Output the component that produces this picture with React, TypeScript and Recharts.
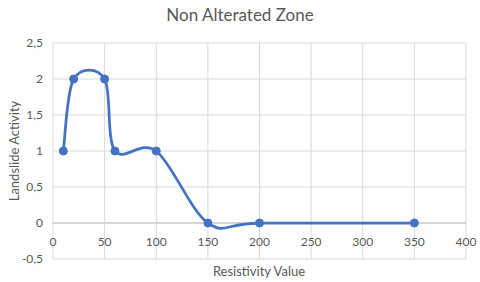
import React from 'react';
import { LineChart, Line, XAxis, YAxis, CartesianGrid, ReferenceLine } from 'recharts';

const resistivity = [10, 20, 50, 60, 100, 150, 200, 350];
const activity = [1, 2, 2, 1, 1, 0, 0, 0];
const xTicks = [0, 50, 100, 150, 200, 250, 300, 350, 400];
const yTicks = [-0.5, 0, 0.5, 1, 1.5, 2, 2.5];

const data = resistivity.map((x, i) => ({ x, y: activity[i] }));

const textColor = '#595959';
const font = 'Lato, "Open Sans", sans-serif';

// Excel-like smoothed line (Catmull-Rom through the points)
const excelSmooth = (context: any) => {
  let pts: number[][] = [];
  return {
    areaStart() {},
    areaEnd() {},
    lineStart() {
      pts = [];
    },
    point(x: number, y: number) {
      pts.push([+x, +y]);
    },
    lineEnd() {
      if (!pts.length) return;
      context.moveTo(pts[0][0], pts[0][1]);
      for (let i = 0; i < pts.length - 1; i++) {
        const p0 = pts[Math.max(i - 1, 0)];
        const p1 = pts[i];
        const p2 = pts[i + 1];
        const p3 = pts[Math.min(i + 2, pts.length - 1)];
        context.bezierCurveTo(
          p1[0] + (p2[0] - p0[0]) / 6,
          p1[1] + (p2[1] - p0[1]) / 6,
          p2[0] - (p3[0] - p1[0]) / 6,
          p2[1] - (p3[1] - p1[1]) / 6,
          p2[0],
          p2[1]
        );
      }
    },
  };
};

// x labels sit under the zero line, not under the plot bottom
const XTick = (props: any) => {
  const { x, y, payload } = props;
  return (
    <text x={x} y={y - 18} textAnchor="middle" dominantBaseline="middle" fill={textColor} fontSize={12} fontFamily={font}>
      {payload.value}
    </text>
  );
};

export default function App() {
  return (
    <div style={{ position: 'absolute', left: 0, top: 0, width: 480, height: 282, background: '#fff' }}>
      <div
        style={{
          position: 'absolute',
          top: 4,
          width: 480,
          textAlign: 'center',
          fontFamily: font,
          fontSize: 17,
          color: textColor,
        }}
      >
        Non Alterated Zone
      </div>
      <LineChart width={480} height={282} data={data} margin={{ top: 43, right: 14, bottom: 0, left: 0 }}>
        <CartesianGrid stroke="#d9d9d9" strokeWidth={1} />
        <XAxis
          dataKey="x"
          type="number"
          domain={[0, 400]}
          ticks={xTicks}
          axisLine={false}
          tickLine={false}
          tickSize={0}
          height={23}
          tick={<XTick />}
          interval={0}
        />
        <YAxis
          type="number"
          domain={[-0.5, 2.5]}
          ticks={yTicks}
          axisLine={false}
          tickLine={false}
          tickSize={0}
          tickMargin={10}
          width={53}
          interval={0}
          tick={{ fill: textColor, fontSize: 12, fontFamily: font }}
          tickFormatter={(v: number) => String(v).replace('.', ',')}
          label={{
            value: 'Landslide Activity',
            angle: -90,
            position: 'insideLeft',
            offset: 14,
            style: { textAnchor: 'middle', fill: textColor, fontSize: 13, fontFamily: font },
          }}
        />
        <ReferenceLine y={0} stroke="#bfbfbf" strokeWidth={1} />
        <Line
          dataKey="y"
          type={excelSmooth as any}
          stroke="#4472c4"
          strokeWidth={2.75}
          dot={{ r: 4, fill: '#4472c4', stroke: '#4472c4', strokeWidth: 1 }}
          isAnimationActive={false}
        />
      </LineChart>
      <div
        style={{
          position: 'absolute',
          top: 263,
          left: 52,
          width: 414,
          textAlign: 'center',
          fontFamily: font,
          fontSize: 13,
          color: textColor,
        }}
      >
        Resistivity Value
      </div>
    </div>
  );
}
